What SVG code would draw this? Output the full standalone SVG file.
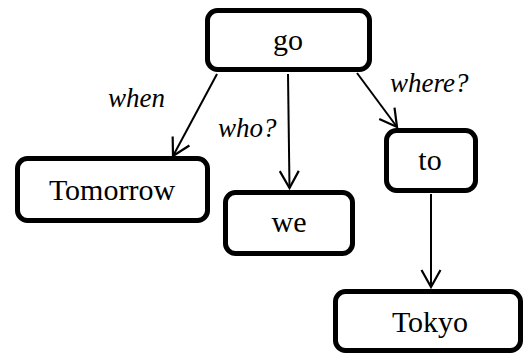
<svg xmlns="http://www.w3.org/2000/svg" width="524" height="356" viewBox="0 0 524 356">
<style>
.box{fill:#fff;stroke:#000;stroke-width:5}
.edge{stroke:#000;stroke-width:2;fill:none;marker-end:url(#arr)}
.t{font-family:"Liberation Serif",serif;font-size:24px;text-anchor:middle;fill:#000}
.lbl{font-family:"Liberation Serif",serif;font-size:24px;font-style:italic;fill:#000}
</style>
<defs>
<marker id="arr" markerUnits="userSpaceOnUse" markerWidth="24" markerHeight="24" viewBox="-20 -12 24 24" refX="0" refY="0" orient="auto">
<path d="M-17,-9.5 L0,0 L-17,9.5" fill="none" stroke="#000" stroke-width="2.2"/>
</marker>
</defs>
<rect width="524" height="356" fill="#fff"/>
<g id="connectors">
<line class="edge" x1="217" y1="74" x2="173" y2="156"/>
<line class="edge" x1="288" y1="74" x2="289.5" y2="188"/>
<line class="edge" x1="357" y1="73" x2="397" y2="127"/>
<line class="edge" x1="431" y1="194" x2="431" y2="287"/>
</g>
<g id="labels">
<text class="lbl" transform="translate(108,107) scale(1.125)">when</text>
<text class="lbl" transform="translate(218,137) scale(1.125)">who?</text>
<text class="lbl" transform="translate(390,92) scale(1.125)">where?</text>
</g>
<g id="node-go">
<rect class="box" x="207.5" y="10.5" width="162" height="59" rx="10"/>
<text class="t" transform="translate(288,50) scale(1.25)">go</text>
</g>
<g id="node-tomorrow">
<rect class="box" x="17.5" y="158.5" width="190" height="62" rx="10"/>
<text class="t" transform="translate(112,200) scale(1.25)">Tomorrow</text>
</g>
<g id="node-we">
<rect class="box" x="225.5" y="192.5" width="127" height="61" rx="10"/>
<text class="t" transform="translate(289,232) scale(1.25)">we</text>
</g>
<g id="node-to">
<rect class="box" x="386.5" y="130.5" width="89" height="60" rx="10"/>
<text class="t" transform="translate(430,170) scale(1.25)">to</text>
</g>
<g id="node-tokyo">
<rect class="box" x="335.5" y="291.5" width="185" height="59" rx="10"/>
<text class="t" transform="translate(430,332) scale(1.25)">Tokyo</text>
</g>
</svg>
